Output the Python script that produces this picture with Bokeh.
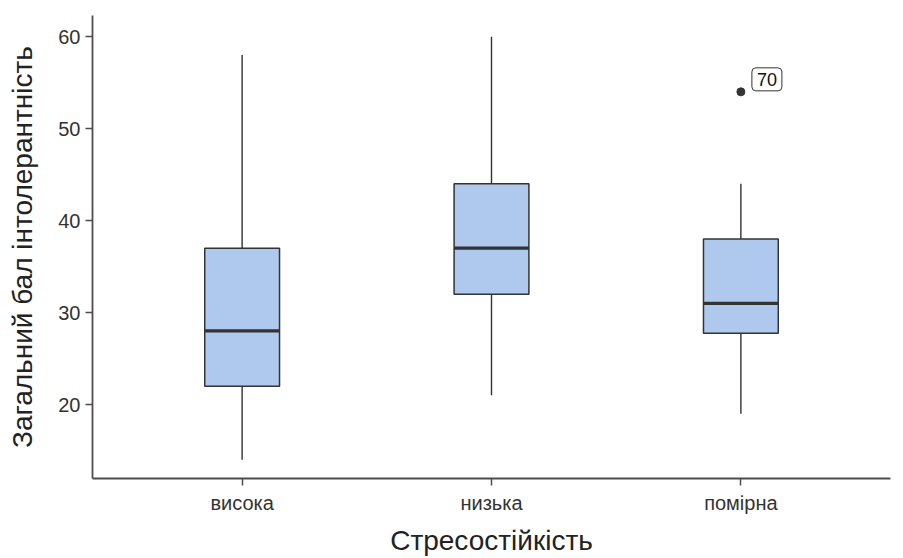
from bokeh.plotting import figure
from bokeh.models import Range1d, FixedTicker, Label, ColumnDataSource
from bokeh.embed import file_html
from bokeh.resources import INLINE

categories = ["висока", "низька", "помірна"]
positions = [1, 2, 3]
lower_whisker = [14, 21, 19]
q1 = [22, 32, 27.75]
median = [28, 37, 31]
q3 = [37, 44, 38]
upper_whisker = [58, 60, 44]
outlier_x = [3]
outlier_y = [54]
outlier_labels = ["70"]

box_width = 0.3
FONT = "Liberation Sans"
LINE = "#333333"
FILL = "#aec8ee"

p = figure(width=903, height=558, output_backend="svg", toolbar_location=None,
           x_range=Range1d(0.4, 3.6), y_range=Range1d(11.96, 62.3),
           min_border_left=92, min_border_right=13, min_border_top=15, min_border_bottom=80)

src = ColumnDataSource(dict(x=positions, lo=lower_whisker, q1=q1, med=median, q3=q3, hi=upper_whisker,
                            x0=[v - box_width / 2 for v in positions],
                            x1=[v + box_width / 2 for v in positions]))

p.segment(x0="x", x1="x", y0="q3", y1="hi", source=src, line_color=LINE, line_width=1.4)
p.segment(x0="x", x1="x", y0="lo", y1="q1", source=src, line_color=LINE, line_width=1.4)
p.vbar(x="x", width=box_width, bottom="q1", top="q3", source=src,
       fill_color=FILL, line_color=LINE, line_width=1.5)
p.segment(x0="x0", x1="x1", y0="med", y1="med", source=src, line_color=LINE, line_width=3.2)

p.scatter(outlier_x, outlier_y, size=8, color=LINE)
for ox, oy, t in zip(outlier_x, outlier_y, outlier_labels):
    p.add_layout(Label(x=ox, y=oy, text=t, x_offset=11, y_offset=1,
                       text_align="left", text_baseline="bottom",
                       text_font=FONT, text_font_size="18px", text_color="#111111",
                       background_fill_color="white", border_line_color=LINE,
                       border_line_width=1, padding=5, border_radius=4))

p.xaxis.ticker = FixedTicker(ticks=positions)
p.xaxis.major_label_overrides = {pos: c for pos, c in zip(positions, categories)}
p.yaxis.ticker = FixedTicker(ticks=[20, 30, 40, 50, 60])

p.xaxis.axis_label = "Стресостійкість"
p.yaxis.axis_label = "Загальний бал інтолерантність"

for ax in (p.xaxis, p.yaxis):
    ax.axis_line_color = "#4d4d4d"
    ax.axis_line_width = 1.8
    ax.major_tick_line_color = "#4d4d4d"
    ax.major_tick_line_width = 1.5
    ax.major_tick_out = 7
    ax.major_tick_in = 0
    ax.minor_tick_line_color = None
    ax.major_label_text_font = FONT
    ax.major_label_text_font_size = "20px"
    ax.major_label_text_color = "#333333"
    ax.axis_label_text_font = FONT
    ax.axis_label_text_font_size = "28px"
    ax.axis_label_text_font_style = "normal"
    ax.axis_label_text_color = "#222222"

p.xaxis.major_label_standoff = 6
p.xaxis.axis_label_standoff = 8
p.yaxis.major_label_standoff = 5
p.yaxis.axis_label_standoff = 17

p.xgrid.visible = False
p.ygrid.visible = False
p.outline_line_color = None
p.background_fill_color = "white"
p.border_fill_color = "white"

open("out.html", "w").write(file_html(p, INLINE))
